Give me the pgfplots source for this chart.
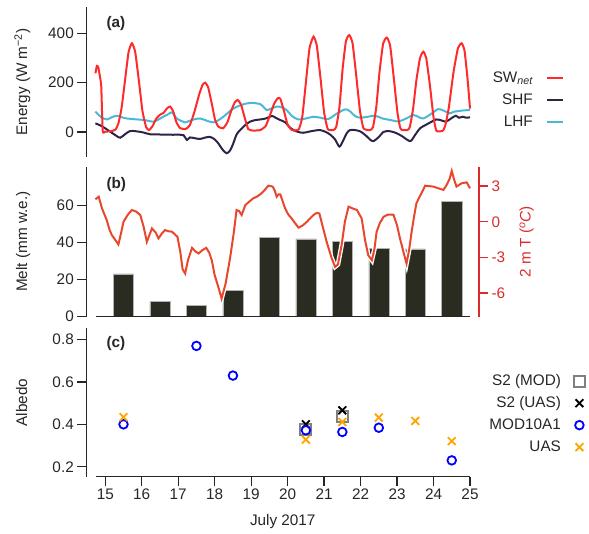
\documentclass[border=0pt]{standalone}
\usepackage{fontspec}
\setmainfont{Liberation Sans}
\usepackage{pgfplots}
\pgfplotsset{compat=1.18}
\usepackage{pgfplotstable}
\definecolor{axcol}{HTML}{262626}
\definecolor{swcol}{HTML}{FF2B2B}
\definecolor{shfcol}{HTML}{2D2447}
\definecolor{lhfcol}{HTML}{4BB9D6}
\definecolor{tcol}{HTML}{E8472E}
\definecolor{rcol}{HTML}{DD2A2A}
\definecolor{barcol}{HTML}{2A2C22}
\definecolor{orcol}{HTML}{FFA500}
\newcommand{\fs}{\fontsize{15.3}{18}\selectfont}

\pgfplotstableread{
x y
14.73 238
14.77 268
14.81 262
14.85 228
14.89 185
14.93 5
15.00 2
15.15 3
15.28 10
15.36 35
15.45 100
15.55 220
15.64 325
15.73 360
15.82 325
15.92 210
16.02 85
16.12 20
16.20 8
16.30 25
16.40 55
16.50 70
16.60 78
16.70 97
16.78 103
16.86 85
16.95 40
17.05 16
17.20 12
17.32 28
17.45 85
17.58 155
17.67 192
17.74 200
17.82 182
17.92 115
18.01 50
18.10 22
18.23 15
18.35 40
18.45 85
18.55 120
18.63 130
18.72 112
18.82 60
18.92 12
19.05 6
19.25 8
19.40 25
19.52 70
19.63 115
19.73 137
19.80 135
19.90 85
20.00 30
20.12 8
20.30 10
20.40 60
20.50 200
20.60 340
20.71 387
20.80 350
20.90 220
21.00 80
21.10 12
21.25 8
21.33 20
21.42 100
21.51 260
21.60 370
21.69 393
21.78 360
21.88 230
21.98 90
22.08 15
22.26 8
22.34 20
22.43 100
22.52 245
22.62 360
22.72 383
22.81 350
22.91 220
23.01 80
23.10 12
23.28 8
23.35 20
23.44 95
23.53 210
23.63 300
23.72 326
23.80 300
23.90 190
24.00 60
24.08 5
24.25 5
24.32 25
24.42 100
24.55 245
24.67 340
24.77 360
24.85 330
24.93 220
24.97 150
25.00 95
}\swtab

\pgfplotstableread{
x y
14.73 35
14.85 28
15.00 15
15.15 0
15.30 -15
15.41 -23
15.55 -8
15.68 4
15.85 3
16.05 -2
16.23 -9
16.50 -10
16.80 -11
17.05 -11
17.15 -13
17.24 -32
17.32 -22
17.45 -25
17.60 -28
17.75 -22
17.88 -20
18.00 -30
18.10 -46
18.22 -72
18.33 -86
18.42 -75
18.50 -50
18.60 -10
18.70 8
18.85 30
18.97 42
19.10 48
19.25 51
19.40 55
19.57 65
19.67 58
19.79 49
19.93 40
20.05 20
20.16 8
20.30 0
20.43 -3
20.60 2
20.75 6
20.89 8
21.05 0
21.18 -12
21.30 -30
21.42 -59
21.52 -35
21.62 -5
21.71 8
21.85 8
22.00 2
22.15 -15
22.33 -37
22.50 -20
22.62 0
22.72 4
22.85 2
22.99 -5
23.15 -18
23.36 -37
23.48 -15
23.63 15
23.80 30
23.95 42
24.07 51
24.20 48
24.34 42
24.48 55
24.61 66
24.70 58
24.80 62
24.90 58
25.00 60
}\shftab

\pgfplotstableread{
x y
14.73 83
14.85 65
14.95 55
15.05 51
15.18 60
15.32 66
15.45 60
15.59 55
15.80 52
16.05 49
16.20 45
16.32 42
16.45 50
16.60 63
16.72 72
16.83 80
16.92 62
16.96 55
17.08 45
17.19 39
17.40 50
17.60 55
17.80 45
17.97 39
18.10 48
18.24 62
18.38 80
18.52 96
18.70 108
18.88 116
19.05 118
19.25 113
19.35 100
19.43 89
19.55 95
19.70 103
19.85 100
19.97 89
20.12 65
20.29 51
20.50 55
20.71 62
20.90 58
21.12 53
21.35 75
21.58 92
21.70 85
21.85 65
21.99 58
22.20 62
22.40 66
22.60 55
22.81 49
23.04 43
23.25 55
23.45 69
23.60 60
23.72 55
23.90 70
24.13 93
24.30 85
24.45 76
24.55 82
24.68 85
24.85 88
25.00 89
}\lhftab

\pgfplotstableread{
x y
14.73 1.89
14.82 2.11
14.91 1.13
15.04 0.14
15.12 -0.7
15.18 -1.12
15.36 -1.91
15.43 -1.0
15.50 0.0
15.62 0.6
15.73 0.99
15.85 0.85
15.96 0.57
16.05 -0.4
16.14 -1.69
16.28 -0.56
16.38 -0.9
16.46 -1.4
16.55 -1.0
16.64 -0.7
16.73 -0.8
16.83 -0.84
16.98 -1.27
17.06 -2.6
17.12 -4.0
17.19 -4.36
17.27 -3.2
17.38 -2.2
17.47 -2.5
17.56 -2.67
17.66 -2.4
17.77 -2.2
17.85 -2.6
17.92 -3.24
18.00 -4.5
18.10 -5.5
18.19 -6.47
18.30 -5.2
18.42 -3.1
18.52 -1.0
18.60 0.99
18.67 0.9
18.74 0.57
18.84 1.41
18.95 1.7
19.06 1.98
19.15 2.1
19.25 2.31
19.35 2.6
19.47 3.04
19.59 2.96
19.65 2.6
19.70 2.11
19.75 2.3
19.80 2.3
19.93 1.13
20.02 0.6
20.11 0.28
20.20 -0.1
20.30 -0.5
20.42 -0.3
20.53 0.0
20.62 0.3
20.71 0.57
20.80 0.75
20.87 0.7
20.97 -0.5
21.07 -1.69
21.20 -3.0
21.30 -3.8
21.38 -3.6
21.48 -1.97
21.57 0.0
21.67 1.27
21.80 1.1
21.90 0.99
22.03 0.28
22.12 -1.5
22.21 -2.82
22.31 -3.24
22.38 -2.3
22.44 -0.84
22.53 -0.1
22.63 0.42
22.75 0.6
22.90 0.6
23.00 -0.3
23.08 -1.4
23.18 -2.6
23.26 -3.52
23.33 -2.4
23.40 -0.84
23.47 0.5
23.53 1.55
23.60 2.0
23.67 2.4
23.77 3.04
23.88 3.0
24.00 2.96
24.10 2.85
24.20 2.75
24.27 2.68
24.36 3.1
24.44 3.6
24.50 4.28
24.56 3.6
24.63 2.96
24.70 3.1
24.77 3.24
24.91 3.32
25.00 2.82
}\ttab

\pgfplotsset{
  base/.style={
    scale only axis, width=383.7pt, xmin=14.48, xmax=25,
    anchor=south west, clip=false,
    axis x line*=bottom, axis y line*=left,
    axis line style={draw=axcol, line width=1.3pt},
    tick style={draw=axcol, line width=1.3pt},
    major tick length=9pt, tick align=outside,
    tick label style={font=\fs, text=axcol},
    /pgf/number format/assume math mode=true,
    label style={font=\fs, text=axcol},
    every axis y label/.style={at={(rel axis cs:-0.1545,0.5)}, rotate=90, anchor=base, font=\fs, text=axcol},
  },
  lgd/.style={
    legend plot pos=right, legend cell align=right,
    legend style={draw=none, fill=none, inner sep=0pt, font=\fs, text=axcol,
      nodes={inner sep=0pt, text height=11pt, text depth=2pt},
      row sep=9pt, column sep=13pt},
  },
}

\begin{document}
\begin{tikzpicture}
\useasboundingbox (0pt,0pt) rectangle (589pt,533pt);

% ---------- panel (a)
\begin{axis}[base, lgd, at={(86.3pt,376.3pt)}, height=149.2pt,
  ymin=-100, ymax=505, ytick={0,200,400},
  xtick=\empty, x axis line style={draw=none},
  ylabel={Energy (W m\textsuperscript{−2})},
  legend style={at={(rel axis cs:1.245,0.574)}, anchor=north east},
  legend image code/.code={\draw[#1] (0pt,0pt) -- (16pt,0pt);},
]
\addplot[lhfcol, line width=2pt, smooth, tension=0.5, forget plot] table {\lhftab};
\addplot[shfcol, line width=2pt, smooth, tension=0.5, forget plot] table {\shftab};
\addplot[swcol, line width=2pt, smooth, tension=0.3] table {\swtab};
\addlegendentry{SW\textsubscript{\itshape net}}
\addlegendimage{shfcol, line width=2pt}
\addlegendentry{SHF}
\addlegendimage{lhfcol, line width=2pt}
\addlegendentry{LHF}
\node[anchor=west, font=\bfseries\fs, text=axcol] at (rel axis cs:0.0435,0.893) {(a)};
\end{axis}

% ---------- panel (b)
\begin{axis}[base, at={(86.3pt,216.3pt)}, height=149.9pt,
  ymin=0, ymax=81, ytick={0,20,40,60},
  xtick=\empty, x axis line style={draw=none},
  ylabel={Melt (mm w.e.)},
]
\addplot[ybar, bar shift=0pt, bar width=0.55, fill=barcol, draw=gray!60, line width=0.5pt]
  coordinates {(15.5,23.1) (16.5,8.1) (17.5,6.3) (18.5,14.4) (19.5,42.9)
               (20.5,42.0) (21.5,40.5) (22.5,37.0) (23.5,36.6) (24.5,62.2)};
\draw[axcol, line width=1.3pt] (axis cs:14.74,0) -- (axis cs:25,0);
\node[anchor=west, font=\bfseries\fs, text=axcol] at (rel axis cs:0.0435,0.882) {(b)};
\end{axis}

\begin{axis}[scale only axis, anchor=south west, clip=false,
  at={(86.3pt,216.3pt)}, width=392.7pt, height=149.9pt,
  xmin=14.48, xmax=25.247, ymin=-8.0, ymax=4.63,
  axis x line=none, axis y line*=right,
  y axis line style={draw=rcol, line width=1.3pt},
  ytick style={draw=rcol, line width=1.3pt},
  major tick length=9pt, tick align=outside,
  ytick={-6,-3,0,3},
  yticklabel style={font=\fs, text=rcol},
  /pgf/number format/assume math mode=true,
  ylabel={2 m T ({\itshape\textsuperscript{o}C})},
  every axis y label/.style={at={(rel axis cs:1.1317,0.5)}, rotate=90, anchor=base, font=\fs, text=rcol},
]
\addplot[white, line width=4.6pt] table {\ttab};
\addplot[tcol, line width=2pt] table {\ttab};
\end{axis}

% ---------- panel (c)
\begin{axis}[base, lgd, at={(86.3pt,56.3pt)}, height=148.4pt,
  ymin=0.153, ymax=0.853, ytick={0.2,0.4,0.6,0.8},
  yticklabel style={/pgf/number format/fixed, /pgf/number format/precision=1, /pgf/number format/fixed zerofill},
  xtick={15,16,...,25}, x axis line style={draw=none},
  xlabel={July 2017},
  xlabel style={at={(rel axis cs:0.512,-0.332)}, anchor=base},
  ylabel={Albedo},
  legend style={at={(rel axis cs:1.30,0.689)}, anchor=north east},
  legend image code/.code={\draw[#1] plot coordinates {(0pt,0pt)};},
]
\addplot[only marks, mark=square, mark size=5.5pt, gray, line width=2pt] coordinates {(20.5,0.375) (21.5,0.438)};
\addlegendentry{S2 (MOD)}
\addplot[only marks, mark=x, mark size=5.5pt, black, line width=1.8pt] coordinates {(20.5,0.40) (21.5,0.466)};
\addlegendentry{S2 (UAS)}
\addplot[only marks, mark=o, mark size=4.3pt, blue, line width=1.8pt] coordinates {(15.5,0.40) (17.5,0.77) (18.5,0.63) (20.5,0.372) (21.5,0.364) (22.5,0.384) (24.5,0.23)};
\addlegendentry{MOD10A1}
\addplot[only marks, mark=x, mark size=5.5pt, orcol, line width=1.8pt] coordinates {(15.5,0.434) (20.5,0.328) (21.5,0.411) (22.5,0.432) (23.5,0.416) (24.5,0.321)};
\addlegendentry{UAS}
\draw[axcol, line width=1.3pt] (axis cs:14.74,0.153) -- (axis cs:25,0.153);
\node[anchor=west, font=\bfseries\fs, text=axcol] at (rel axis cs:0.0435,0.894) {(c)};
\end{axis}
\end{tikzpicture}
\end{document}
